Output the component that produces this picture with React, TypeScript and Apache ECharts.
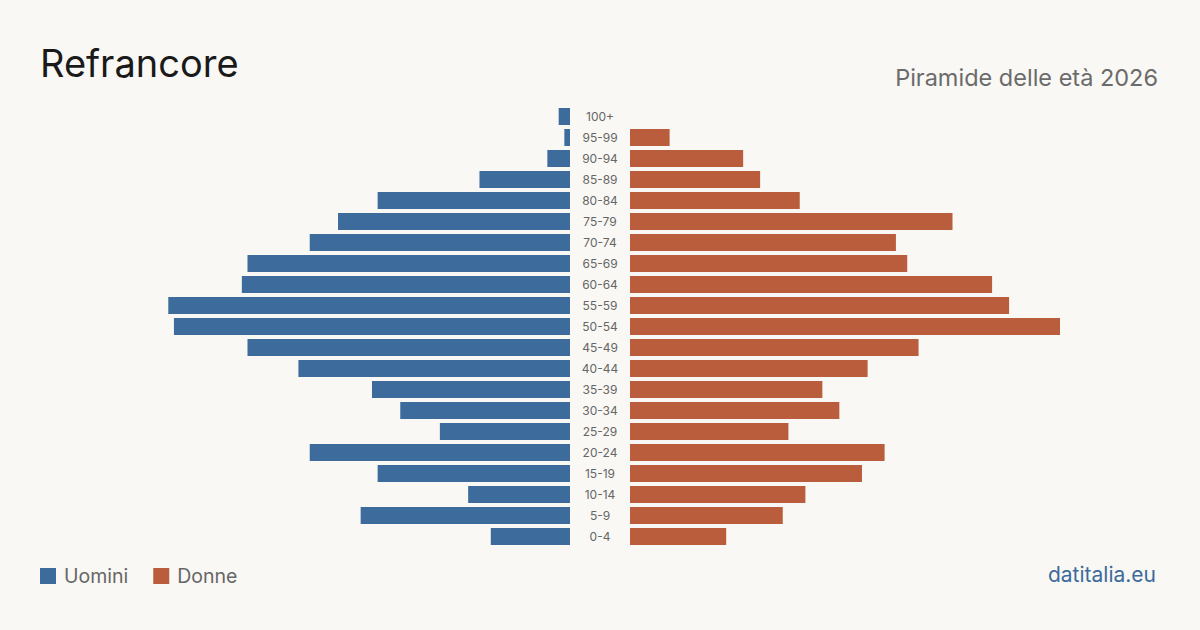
import React, { useEffect, useRef } from "react";
import * as echarts from "echarts";

const ageGroups = ["0-4", "5-9", "10-14", "15-19", "20-24", "25-29", "30-34", "35-39", "40-44", "45-49", "50-54", "55-59", "60-64", "65-69", "70-74", "75-79", "80-84", "85-89", "90-94", "95-99", "100+"];
const maleValues = [14, 37, 18, 34, 46, 23, 30, 35, 48, 57, 70, 71, 58, 57, 46, 41, 34, 16, 4, 1, 2];
const femaleValues = [17, 27, 31, 41, 45, 28, 37, 34, 42, 51, 76, 67, 64, 49, 47, 57, 30, 23, 20, 7, 0];

const titleText = "Refrancore";
const subtitleText = "Piramide delle età 2026";
const sourceText = "datitalia.eu";
const maleName = "Uomini";
const femaleName = "Donne";

const BLUE = "#3c6b9c";
const ORANGE = "#b95d3c";
const BG = "#f9f8f4";
const FONT = "Inter, 'Noto Sans', sans-serif";

export default function App() {
  const ref = useRef<HTMLDivElement>(null);
  useEffect(() => {
    if (!ref.current) return;
    const chart = echarts.init(ref.current, undefined, { renderer: "svg" });
    const maxV = Math.max(...maleValues, ...femaleValues);
    chart.setOption({
      animation: false,
      backgroundColor: BG,
      textStyle: { fontFamily: FONT },
      title: [
        { text: titleText, left: 35, top: 39, textStyle: { fontSize: 38, fontWeight: "normal", color: "#1a1a1a", fontFamily: FONT } },
        { text: subtitleText, right: 37, top: 60, textStyle: { fontSize: 23.5, fontWeight: "normal", color: "#6b6b6b", fontFamily: FONT } },
        { text: sourceText, right: 39, top: 559, textStyle: { fontSize: 21, fontWeight: "normal", color: BLUE, fontFamily: FONT } },
      ],
      legend: {
        left: 35,
        top: 561,
        icon: "rect",
        itemWidth: 16,
        itemHeight: 16,
        itemGap: 25,
        textStyle: { fontSize: 19.5, color: "#666", fontFamily: FONT, padding: [0, 0, 0, 3] },
        data: [maleName, femaleName],
      },
      grid: [
        { left: 140, width: 430, top: 106, height: 441 },
        { left: 630, width: 430, top: 106, height: 441 },
      ],
      xAxis: [
        { gridIndex: 0, type: "value", inverse: true, min: 0, max: maxV, show: false },
        { gridIndex: 1, type: "value", min: 0, max: maxV, show: false },
      ],
      yAxis: [
        {
          gridIndex: 0,
          type: "category",
          data: ageGroups,
          position: "right",
          axisLine: { show: false },
          axisTick: { show: false },
          axisLabel: { align: "center", margin: 30, color: "#666", fontSize: 12, fontFamily: FONT },
        },
        { gridIndex: 1, type: "category", data: ageGroups, show: false },
      ],
      series: [
        { name: maleName, type: "bar", xAxisIndex: 0, yAxisIndex: 0, data: maleValues, barWidth: 17, itemStyle: { color: BLUE } },
        { name: femaleName, type: "bar", xAxisIndex: 1, yAxisIndex: 1, data: femaleValues, barWidth: 17, itemStyle: { color: ORANGE } },
      ],
    });
    return () => chart.dispose();
  }, []);
  return (
    <div
      ref={ref}
      style={{ position: "fixed", left: 0, top: 0, width: 1200, height: 630, background: BG }}
    />
  );
}
